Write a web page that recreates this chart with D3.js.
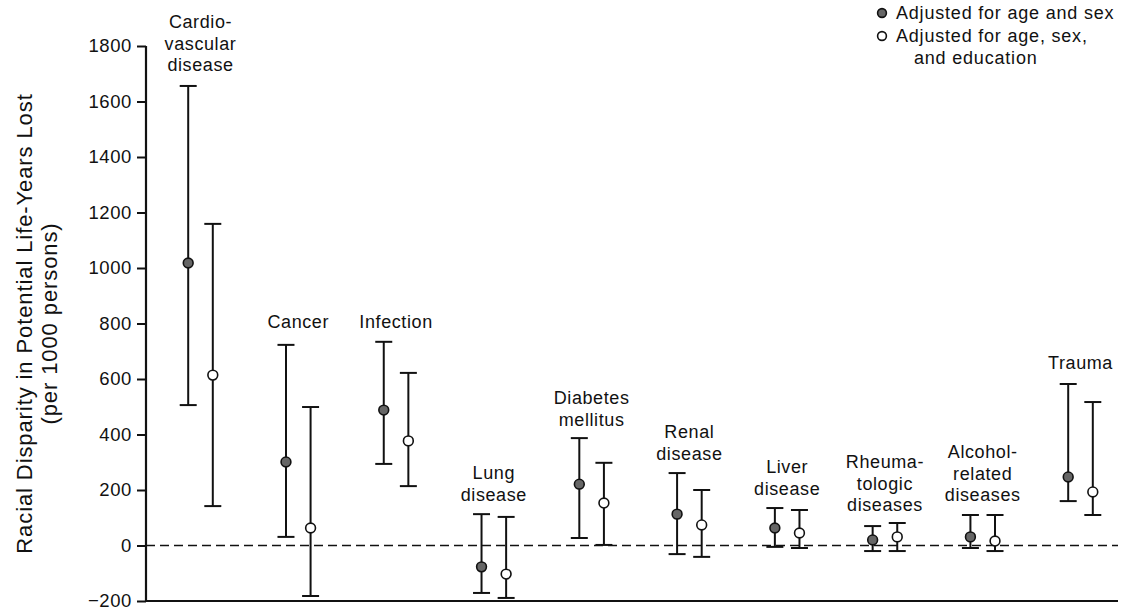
<!DOCTYPE html>
<html><head><meta charset="utf-8">
<script src="https://cdn.jsdelivr.net/npm/d3@7"></script>
<style>
body{margin:0;background:#fff;}
svg text{font-family:"Liberation Sans",Arial,Helvetica,sans-serif;fill:#111;}
</style></head>
<body><svg id="c" width="1122" height="609"></svg>
<script>
// Categories (label lines)
const categories = ["Cardiovascular disease","Cancer","Infection","Lung disease","Diabetes mellitus","Renal disease","Liver disease","Rheumatologic diseases","Alcohol-related diseases","Trauma"];
const categoryLabels = [["Cardio-","vascular","disease"],["Cancer"],["Infection"],["Lung","disease"],["Diabetes","mellitus"],["Renal","disease"],["Liver","disease"],["Rheuma-","tologic","diseases"],["Alcohol-","related","diseases"],["Trauma"]];
// Adjusted for age and sex: estimate, lower, upper
const ageSexEst   = [1018, 301, 488, -77, 221, 113, 63, 20, 31, 247];
const ageSexLow   = [506, 31, 294, -171, 27, -31, -5, -20, -9, 160];
const ageSexHigh  = [1656, 723, 734, 113, 387, 261, 135, 70, 110, 582];
// Adjusted for age, sex, and education
const ageSexEduEst  = [614, 63, 377, -103, 153, 74, 45, 31, 16, 193];
const ageSexEduLow  = [142, -182, 214, -189, 2, -41, -9, -20, -20, 110];
const ageSexEduHigh = [1159, 499, 622, 103, 298, 200, 128, 81, 110, 517];
const yTicks = [-200, 0, 200, 400, 600, 800, 1000, 1200, 1400, 1600, 1800];
const seriesNames = ["Adjusted for age and sex", "Adjusted for age, sex,", "and education"];

const svg = d3.select("#c");
const axisX = 146, rightX = 1118;
const y = d3.scaleLinear().domain([-200, 1800]).range([601, 46]);
const x = d3.scalePoint().domain(categories).range([200.5, 1080.5]);
const off = 12.3;

// y axis
const yAxis = d3.axisLeft(y).tickValues(yTicks).tickSize(9).tickPadding(5).tickFormat(d3.format("d"));
const ga = svg.append("g").attr("transform", `translate(${axisX},0)`).call(yAxis);
ga.select(".domain").remove();
ga.selectAll(".tick line").attr("stroke", "#111").attr("stroke-width", 2);
ga.selectAll(".tick text").attr("font-size", 18.5).style("letter-spacing", "0.6px")
  .attr("font-family", '"Liberation Sans",Arial,sans-serif').attr("fill", "#111");
svg.append("line").attr("x1", axisX).attr("x2", axisX).attr("y1", y(1800)).attr("y2", y(-200) + 1)
  .attr("stroke", "#111").attr("stroke-width", 2.2);
svg.append("line").attr("x1", axisX).attr("x2", rightX).attr("y1", y(-200)).attr("y2", y(-200))
  .attr("stroke", "#111").attr("stroke-width", 2.2);
// zero dashed line
svg.append("line").attr("x1", axisX).attr("x2", rightX).attr("y1", y(0)).attr("y2", y(0))
  .attr("stroke", "#111").attr("stroke-width", 1.6).attr("stroke-dasharray", "9,5");

// y title
const tt = svg.append("g").attr("transform", `translate(0,${(y(1800)+y(-200))/2}) rotate(-90)`);
tt.append("text").attr("x", 0).attr("y", 32).attr("text-anchor", "middle").attr("font-size", 22)
  .style("letter-spacing", "0.9px").text("Racial Disparity in Potential Life-Years Lost");
tt.append("text").attr("x", 0).attr("y", 57).attr("text-anchor", "middle").attr("font-size", 22)
  .style("letter-spacing", "0.9px").text("(per 1000 persons)");

// error bars
function drawSeries(est, low, high, dx, fill) {
  const g = svg.append("g");
  categories.forEach((c, i) => {
    const cx = x(c) + dx;
    g.append("line").attr("x1", cx).attr("x2", cx).attr("y1", y(low[i])).attr("y2", y(high[i]))
      .attr("stroke", "#111").attr("stroke-width", 2);
    [low[i], high[i]].forEach(v => {
      g.append("line").attr("x1", cx - 8.5).attr("x2", cx + 8.5).attr("y1", y(v)).attr("y2", y(v))
        .attr("stroke", "#111").attr("stroke-width", 2);
    });
    g.append("circle").attr("cx", cx).attr("cy", y(est[i])).attr("r", 4.9)
      .attr("fill", fill).attr("stroke", "#111").attr("stroke-width", 1.6);
  });
}
drawSeries(ageSexEst, ageSexLow, ageSexHigh, -off, "#666");
drawSeries(ageSexEduEst, ageSexEduLow, ageSexEduHigh, off, "#fff");

// category labels (first-line center y)
const labelTop = [22, 322, 322, 473, 398, 432, 467, 462, 452, 363];
categories.forEach((c, i) => {
  const t = svg.append("text").attr("text-anchor", "middle").attr("font-size", 18)
    .style("letter-spacing", "0.6px");
  categoryLabels[i].forEach((ln, j) => {
    t.append("tspan").attr("x", x(c)).attr("y", labelTop[i] + j * 21.5).attr("dy", "0.35em").text(ln);
  });
});

// legend
const lg = svg.append("g");
lg.append("circle").attr("cx", 882).attr("cy", 13).attr("r", 4.4).attr("fill", "#666").attr("stroke", "#111").attr("stroke-width", 1.6);
lg.append("circle").attr("cx", 882).attr("cy", 36).attr("r", 4.4).attr("fill", "#fff").attr("stroke", "#111").attr("stroke-width", 1.6);
lg.append("text").attr("x", 896).attr("y", 13).attr("dy", "0.35em").attr("font-size", 18).style("letter-spacing", "0.8px").text(seriesNames[0]);
lg.append("text").attr("x", 896).attr("y", 36).attr("dy", "0.35em").attr("font-size", 18).style("letter-spacing", "0.8px").text(seriesNames[1]);
lg.append("text").attr("x", 914).attr("y", 58).attr("dy", "0.35em").attr("font-size", 18).style("letter-spacing", "0.8px").text(seriesNames[2]);
</script></body></html>
